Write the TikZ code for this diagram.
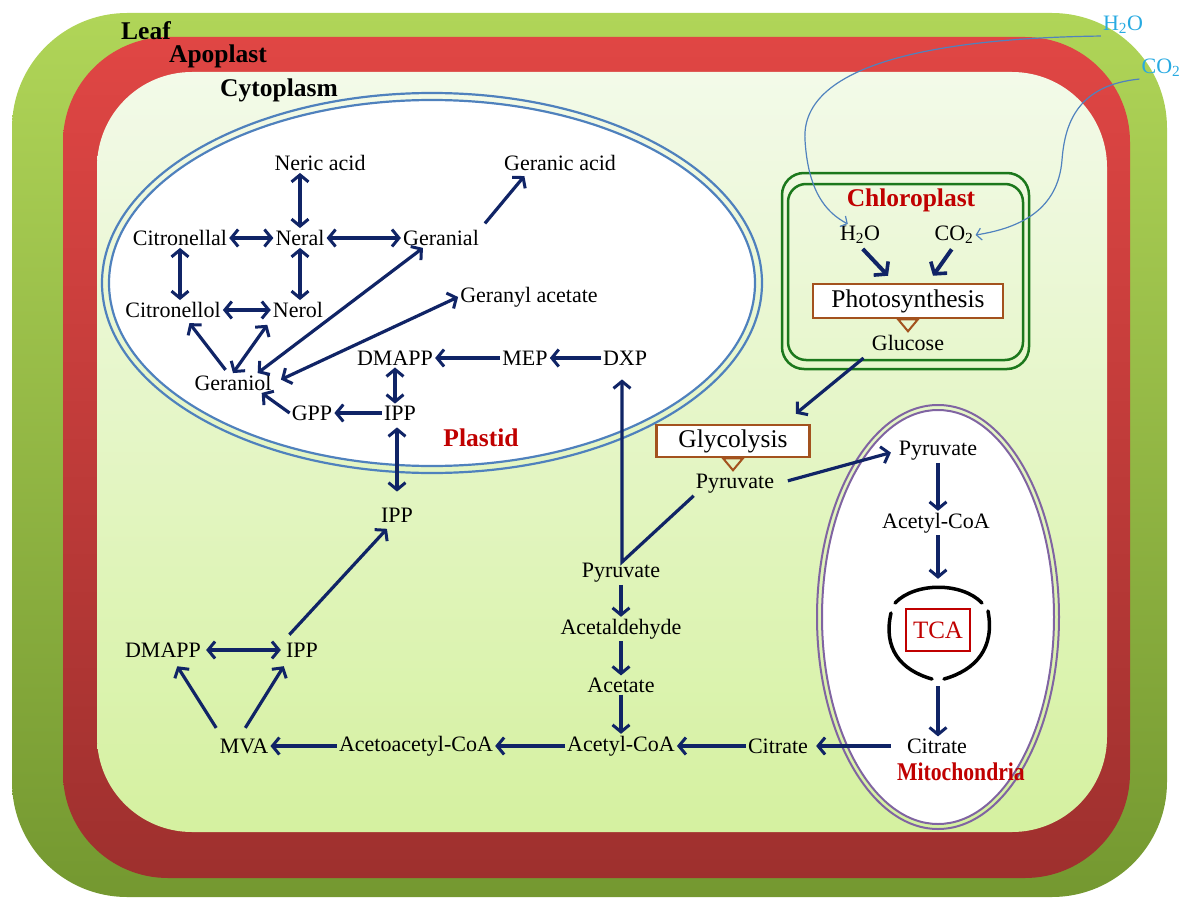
\documentclass[tikz,border=0pt]{standalone}
\usepackage{fontspec}
\setmainfont{Liberation Serif}
\usetikzlibrary{arrows.meta}

\definecolor{leaftop}{RGB}{176,213,88}
\definecolor{leafbot}{RGB}{116,152,48}
\definecolor{apotop}{RGB}{224,70,68}
\definecolor{apobot}{RGB}{158,48,46}
\definecolor{cyttop}{RGB}{243,250,233}
\definecolor{cytbot}{RGB}{213,241,160}
\definecolor{arrowblue}{RGB}{16,36,102}
\definecolor{labelred}{RGB}{192,0,0}
\definecolor{plastidblue}{RGB}{79,129,189}
\definecolor{mitopurple}{RGB}{128,100,162}
\definecolor{chlorogreen}{RGB}{28,120,28}
\definecolor{boxbrown}{RGB}{163,82,30}
\definecolor{gascyan}{RGB}{40,170,225}
\definecolor{gasline}{RGB}{80,130,190}

\tikzset{
  every node/.style={font=\fontsize{22}{24}\selectfont, inner sep=2pt},
  layer/.style={font=\fontsize{25.5}{28}\selectfont\bfseries},
  organelle/.style={font=\fontsize{25.5}{28}\selectfont\bfseries, text=labelred},
  barb/.tip={Straight Barb[length=7pt,width=17pt,line width=3pt]},
  arr/.style={draw=arrowblue, line width=3.2pt, -barb},
  dbl/.style={arr, barb-barb},
  bigarr/.style={draw=arrowblue, line width=4pt, -{Straight Barb[length=8pt,width=20pt,line width=3.6pt]}},
  process/.style={draw=boxbrown, line width=2.5pt, fill=white, font=\fontsize{25.5}{28}\selectfont},
  outlet/.style={draw=boxbrown, line width=2pt},
  gas/.style={draw=gasline, line width=1.2pt, -{Straight Barb[length=5pt,width=12pt,line width=1.2pt]}},
  shield/.style={line width=3.5pt, line cap=round},
}

\begin{document}
\begin{tikzpicture}[x=1pt,y=-1pt]
    \useasboundingbox (0,0) rectangle (1179,899);
    % leaf, apoplast, cytoplasm
    \shade[top color=leaftop, bottom color=leafbot, rounded corners=115pt] (12,13) rectangle (1167,897);
    \shade[top color=apotop, bottom color=apobot, rounded corners=105pt] (63,37) rectangle (1130,878);
    \shade[top color=cyttop, bottom color=cytbot, rounded corners=95pt] (97,72) rectangle (1107,832);
    \node[layer] (leaf) at (146,31) {Leaf};
    \node[layer] (apoplast) at (218,56) {Apoplast};
    \node[layer] (cytoplasm) at (279,90) {Cytoplasm};

    % organelles
    \draw[plastidblue, line width=2.2pt] (432,283) ellipse [x radius=330, y radius=190];
    \draw[plastidblue, line width=2.2pt, fill=white] (432,283) ellipse [x radius=323, y radius=183];
    \draw[mitopurple, line width=2pt] (938,617) ellipse [x radius=121, y radius=212];
    \draw[mitopurple, line width=2pt, fill=white] (938,617) ellipse [x radius=116, y radius=207];
    \draw[chlorogreen, line width=2.5pt, rounded corners=22pt] (782,173) rectangle (1029,369);
    \draw[chlorogreen, line width=2.5pt, rounded corners=18pt] (788,184) rectangle (1023,360);
    \node[organelle] (plastid) at (481,438) {Plastid};
    \node[organelle] (mito) at (961,772) {\scalebox{0.85}[1]{Mitochondria}};
    \node[organelle] (chloro) at (911,200) {Chloroplast};

    % plastid
    \node (neric) at (320,163) {Neric acid};
    \node (citnal) at (180,238) {Citronellal};
    \node (neral) at (300,238) {Neral};
    \node (geranial) at (441,238) {Geranial};
    \node (geranic) at (560,163) {Geranic acid};
    \node (citnol) at (173,310) {Citronellol};
    \node (nerol) at (298,310) {Nerol};
    \node (geracet) at (529,297) {Geranyl acetate};
    \node (geraniol) at (233,383) {Geraniol};
    \node (dmapppl) at (395,358) {DMAPP};
    \node (mep) at (525,358) {MEP};
    \node (dxp) at (625,358) {DXP};
    \node (gpp) at (312,413) {GPP};
    \node (ipppl) at (400,413) {IPP};

    % cytoplasm
    \node (ippcy) at (397,515) {IPP};
    \node (dmappcy) at (163,650) {DMAPP};
    \node (ippmva) at (302,650) {IPP};
    \node (mva) at (244,746) {MVA};
    \node (aacoa) at (416,746) {Acetoacetyl-CoA};
    \node (acoacy) at (621,746) {Acetyl-CoA};
    \node (citcy) at (778,746) {Citrate};
    \node (pyrcy) at (621,573) {Pyruvate};
    \node (acald) at (621,629) {Acetaldehyde};
    \node (acet) at (621,685) {Acetate};
    \node[process, minimum width=153pt, minimum height=32pt] (glyco) at (733,441) {Glycolysis};
    \node (pyrgl) at (735,484) {Pyruvate};
    \coordinate (fork) at (622,562);

    % mitochondria
    \node (pyrmi) at (938,451) {Pyruvate};
    \node (acoami) at (936,523) {Acetyl-CoA};
    \node[circle, minimum size=96pt, inner sep=0pt] (cycle) at (938,630) {};
    \node[draw=labelred, line width=2pt, text=labelred, font=\fontsize{25}{28}\selectfont,
          minimum width=64pt, minimum height=42pt] (tca) at (938,630) {TCA};
    \node (citmi) at (937,746) {Citrate};
    \draw[shield] (895,603) .. controls (915,582) and (962,582) .. (982,603);
    \draw[shield] (891,613) .. controls (883,648) and (900,670) .. (932,679);
    \draw[shield] (988,611) .. controls (995,648) and (976,670) .. (944,679);

    % chloroplast
    \node (h2oin) at (860,235) {H\textsubscript{2}O};
    \node (co2in) at (954,235) {CO\textsubscript{2}};
    \node[process, minimum width=190pt, minimum height=34pt] (photo) at (908,301) {Photosynthesis};
    \node (glucose) at (908,343) {Glucose};
    \node[text=gascyan] (h2oout) at (1123,25) {H\textsubscript{2}O};
    \node[text=gascyan] (co2out) at (1161,68) {CO\textsubscript{2}};

    \draw[outlet] ([xshift=-10pt]photo.south) -- ([xshift=10pt]photo.south) -- ([yshift=-12pt]photo.south) -- cycle;
    \draw[outlet] ([xshift=-10pt]glyco.south) -- ([xshift=10pt]glyco.south) -- ([yshift=-12pt]glyco.south) -- cycle;

    \draw[dbl] (neric.south -| neral) -- (neral);
    \draw[dbl] (citnal) -- (neral);
    \draw[dbl] (neral) -- (geranial);
    \draw[dbl] (citnal.south) -- (citnal.south |- citnol.north);
    \draw[dbl] (neral) -- (neral |- nerol.north);
    \draw[dbl] (citnol) -- (nerol);
    \draw[arr, shorten <=4pt, shorten >=4pt] ([xshift=-5pt]geraniol.north) -- ([xshift=14pt]citnol.south);
    \draw[dbl, shorten >=6pt] (geraniol.north) -- (nerol.south west);
    \draw[dbl] ([xshift=-16pt]geraniol.north east) -- ([xshift=22pt]geranial.south west);
    \draw[dbl, shorten <=8pt] (geraniol.east) -- (geracet.west);
    \draw[arr, shorten <=6pt, shorten >=4pt] (geranial.north east) -- ([xshift=25pt]geranic.south west);
    \draw[arr] (gpp.west) -- ([xshift=-12pt]geraniol.south east);
    \draw[arr] (ipppl) -- (gpp);
    \draw[dbl] (dmapppl) -- (dmapppl |- ipppl.north);
    \draw[arr] (mep) -- (dmapppl);
    \draw[arr] (dxp) -- (mep);
    \draw[dbl, shorten <=5pt, shorten >=14pt] (ipppl.south -| ippcy) -- (ippcy);

    \draw[arr, shorten >=12pt] (pyrgl.south west) -- (fork) -- (fork |- dxp.south);
    \draw[arr] (pyrcy) -- (acald);
    \draw[arr] (acald) -- (acet);
    \draw[arr] (acet) -- (acoacy);
    \draw[arr, shorten <=14pt, shorten >=6pt] (citmi) -- (citcy);
    \draw[arr] (citcy) -- (acoacy);
    \draw[arr] (acoacy) -- (aacoa);
    \draw[arr] (aacoa) -- (mva);
    \draw[dbl, shorten <=3pt, shorten >=3pt] (dmappcy) -- (ippmva);
    \draw[arr, shorten <=10pt, shorten >=8pt] ([xshift=4pt]mva.north west) -- ([xshift=10pt]dmappcy.south);
    \draw[arr, shorten <=10pt, shorten >=8pt] ([xshift=-4pt]mva.north) -- ([xshift=-14pt]ippmva.south);
    \draw[arr, shorten <=8pt, shorten >=6pt] (ippmva.north west) -- ([xshift=-6pt]ippcy.south);

    \draw[arr] (pyrmi) -- (pyrmi |- acoami.north);
    \draw[arr, shorten >=3pt] (acoami.south -| cycle) -- (cycle.north);
    \draw[arr, shorten <=8pt] (cycle.south) -- (cycle.south |- citmi.north);
    \draw[arr, shorten <=8pt] (glucose.south west) -- ([xshift=-15pt,yshift=10pt]glyco.north east);
    \draw[arr, shorten <=12pt, shorten >=6pt] (pyrgl.east) -- (pyrmi.west);

    \draw[bigarr, shorten <=4pt] (h2oin.south) -- ([xshift=-20pt,yshift=7pt]photo.north);
    \draw[bigarr, shorten <=4pt] (co2in.south) -- ([xshift=25pt,yshift=7pt]photo.north);
    \draw[gas] (h2oout.south west) .. controls (950,38) and (800,60) .. (805,140)
        .. controls (808,190) and (825,212) .. ([xshift=10pt]h2oin.north west);
    \draw[gas] (co2out.south west) .. controls (1080,85) and (1065,120) .. (1062,160)
        .. controls (1058,210) and (1020,228) .. (co2in.east);
\end{tikzpicture}
\end{document}
